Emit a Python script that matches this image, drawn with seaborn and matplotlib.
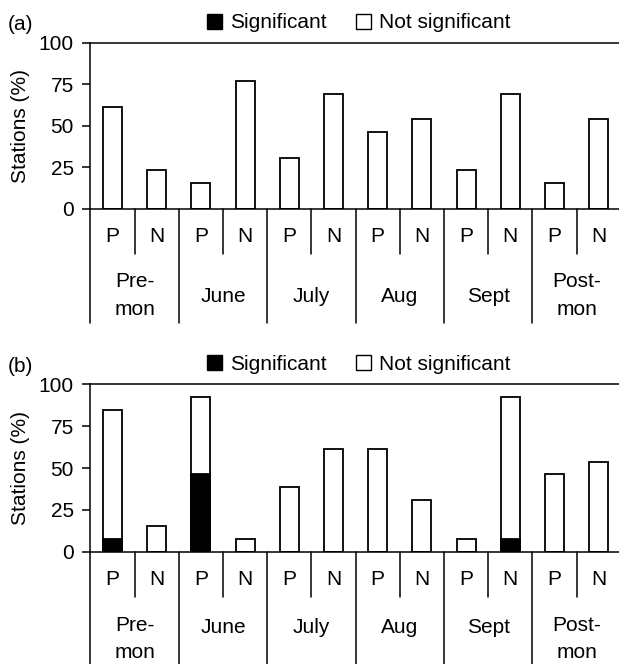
import matplotlib
matplotlib.use("Agg")
import matplotlib.pyplot as plt
import seaborn as sns
import pandas as pd
from matplotlib.patches import Patch
from matplotlib.lines import Line2D

# ---- data ----
months = ["Pre-\nmon", "June", "July", "Aug", "Sept", "Post-\nmon"]
signs = ["P", "N"]
a_total = [61.5, 23.1, 15.4, 76.9, 30.8, 69.2, 46.2, 53.8, 23.1, 69.2, 15.4, 53.8]
a_sig = [0, 0, 0, 0, 0, 0, 0, 0, 0, 0, 0, 0]
b_total = [84.6, 15.4, 92.3, 7.7, 38.5, 61.5, 61.5, 30.8, 7.7, 92.3, 46.2, 53.8]
b_sig = [7.7, 0, 46.2, 0, 0, 0, 0, 0, 0, 7.7, 0, 0]
yticks = [0, 25, 50, 75, 100]
ylabel = "Stations (%)"
legend_labels = ["Significant", "Not significant"]
panel_labels = ["(a)", "(b)"]

sns.set_theme(style="white")
plt.rcParams["font.family"] = ["Liberation Sans", "DejaVu Sans"]
for k in ["text.color", "axes.labelcolor", "xtick.color", "ytick.color", "axes.edgecolor"]:
    plt.rcParams[k] = "black"

FS = 15
W, H = 619, 664
fig = plt.figure(figsize=(W / 100, H / 100), dpi=100)

slots = [f"{m}|{s}" for m in months for s in signs]


def panel(top_px, bot_px, total, sig, plabel, june_mid):
    left_px, right_px = 90.4, 620.8
    ax = fig.add_axes([left_px / W, 1 - bot_px / H, (right_px - left_px) / W, (bot_px - top_px) / H])
    hpx = bot_px - top_px
    df = pd.DataFrame({"slot": slots, "total": total, "sig": sig})
    sns.barplot(data=df, x="slot", y="total", order=slots, color="white",
                edgecolor="black", linewidth=1.3, width=0.43, saturation=1, ax=ax)
    sns.barplot(data=df, x="slot", y="sig", order=slots, color="black",
                edgecolor="black", linewidth=1.3, width=0.43, saturation=1, ax=ax)
    ax.set_xlim(-0.5, len(slots) - 0.5)
    ax.set_ylim(0, 100)
    ax.set_yticks(yticks)
    ax.set_yticklabels([str(v) for v in yticks], fontsize=FS)
    ax.tick_params(axis="y", direction="out", length=6, width=1.1, pad=6, left=True)
    ax.set_xticks([])
    ax.set_xlabel("")
    ax.set_ylabel(ylabel, fontsize=FS)
    ax.yaxis.set_label_coords(-0.114, 0.5)
    for side in ["left", "bottom", "top"]:
        ax.spines[side].set_visible(True)
        ax.spines[side].set_linewidth(1.1)
        ax.spines[side].set_color("black")
    ax.spines["right"].set_visible(False)

    tr = ax.get_xaxis_transform()
    # separators below the axis
    for i in range(len(slots) + 1):
        x = i - 0.5
        depth = 114 if i % 2 == 0 else 45
        ax.add_line(Line2D([x, x], [0, -depth / hpx], transform=tr, color="black",
                           lw=1.1, clip_on=False))
    # P / N labels
    for i, s in enumerate(slots):
        ax.text(i, -28 / hpx, s.split("|")[1], transform=tr, ha="center", va="center",
                fontsize=FS)
    # month labels
    for j, m in enumerate(months):
        ymid = 87 if "\n" in m else june_mid
        ax.text(2 * j + 0.5, -ymid / hpx, m, transform=tr, ha="center", va="center",
                fontsize=FS, linespacing=1.55)

    handles = [Patch(facecolor="black", edgecolor="black", lw=1.0),
               Patch(facecolor="white", edgecolor="black", lw=1.0)]
    ax.legend(handles, legend_labels, loc="center", bbox_to_anchor=(0.506, 1 + 20 / hpx),
              ncol=2, frameon=False, fontsize=FS, handlelength=0.72, handleheight=0.72,
              handletextpad=0.4, columnspacing=1.4, borderaxespad=0, borderpad=0)
    fig.text(8 / W, 1 - (top_px - 18) / H, plabel, ha="left", va="center", fontsize=FS)
    return ax


panel(43, 208.5, a_total, a_sig, panel_labels[0], 88)
panel(384.3, 551.8, b_total, b_sig, panel_labels[1], 76)

fig.savefig("out.png", dpi=100)
